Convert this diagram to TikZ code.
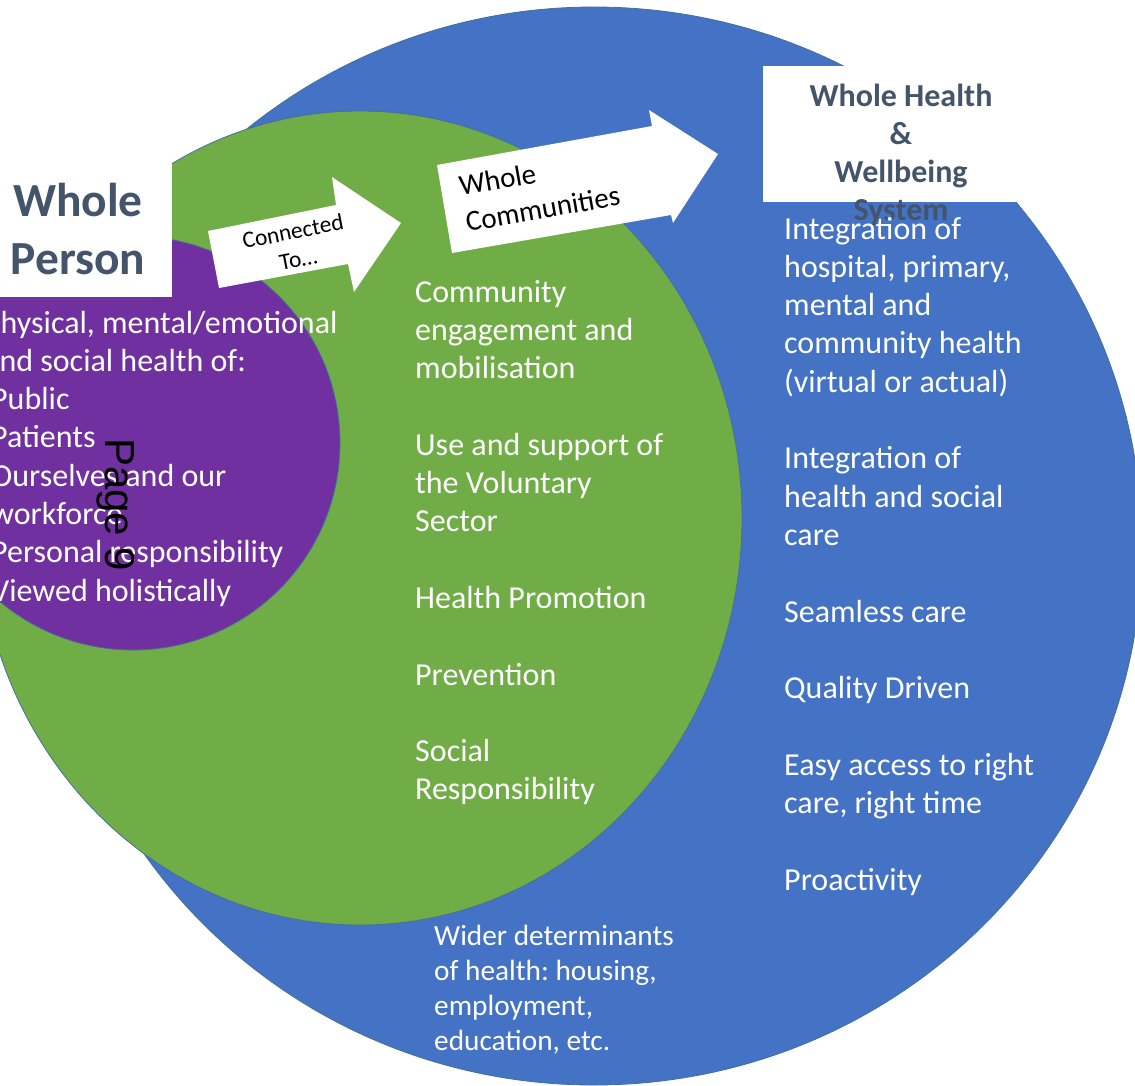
\documentclass[tikz,border=0pt]{standalone}
\usepackage{fontspec}
\setmainfont{Carlito}
\newfontfamily\arialfont{Liberation Sans}
\definecolor{bluefill}{HTML}{4472C4}
\definecolor{greenfill}{HTML}{70AD47}
\definecolor{purplefill}{HTML}{7030A0}
\definecolor{rimblue}{HTML}{41719C}
\definecolor{slate}{HTML}{44546A}
\frenchspacing
\begin{document}
\begin{tikzpicture}[x=1pt,y=-1pt,
  rim/.style={draw=rimblue, line width=0.8pt},
  bodytext/.style={text=white, inner sep=0pt, anchor=base west, font=\fontsize{32}{38.3}\selectfont},
  headtext/.style={text=slate, inner sep=0pt, anchor=base},
  arrowtext/.style={text=black, inner sep=0pt},
  whitebox/.style={fill=white}]
\useasboundingbox (0,0) rectangle (1135,1085);
\fill[white] (0,0) rectangle (1135,1085);
% circles
\filldraw[fill=bluefill, rim] (594,546) ellipse [x radius=548, y radius=539];
\filldraw[fill=greenfill, rim] (360,518) ellipse [x radius=382, y radius=407];
\filldraw[fill=purplefill, rim] (133,443) circle [radius=207];
% heading boxes
\fill[whitebox] (-16,163) rectangle (172,297);
\node[headtext, font=\bfseries\fontsize{47.5}{58}\selectfont] (wholeperson) at (78,216)
  {\begin{tabular}[t]{@{}c@{}}Whole\\Person\end{tabular}};
\fill[whitebox] (763,66) rectangle (1043,202);
\node[headtext, font=\bfseries\fontsize{32}{38.3}\selectfont] (wholesystem) at (901,106)
  {\begin{tabular}[t]{@{}c@{}}Whole Health\\\&\\Wellbeing\\System\end{tabular}};
% arrows
\fill[white] (208,231) -- (336,205) -- (332,177) -- (401,223) -- (354,292) -- (348,264) -- (219,288) -- cycle;
\node[arrowtext, rotate=11, anchor=base, font=\fontsize{23.4}{28.5}\selectfont] (connected) at (294.3,239)
  {\begin{tabular}[t]{@{}c@{}}Connected\\To…\end{tabular}};
\fill[white] (437,165) -- (652,126) -- (649,110) -- (718,154) -- (673,223) -- (671,215) -- (452,253) -- cycle;
\node[arrowtext, rotate=10, anchor=base west, font=\fontsize{29}{36.5}\selectfont] (communities) at (461,196)
  {\begin{tabular}[t]{@{}l@{}}Whole\\Communities\end{tabular}};
% body texts
\node[bodytext] (persontext) at (-16,333)
  {\begin{tabular}[t]{@{}l@{}}Physical, mental/emotional\\and social health of:\\\hspace{7pt}Public\\\hspace{7pt}Patients\\\hspace{7pt}Ourselves and our\\\hspace{7pt}workforce\\\hspace{7pt}Personal responsibility\\\hspace{7pt}Viewed holistically\end{tabular}};
\node[bodytext] (communitytext) at (415,302)
  {\begin{tabular}[t]{@{}l@{}}Community\\engagement and\\mobilisation\\ \\Use and support of\\the Voluntary\\Sector\\ \\Health Promotion\\ \\Prevention\\ \\Social\\Responsibility\end{tabular}};
\node[bodytext] (systemtext) at (784,239)
  {\begin{tabular}[t]{@{}l@{}}Integration of\\hospital, primary,\\mental and\\community health\\(virtual or actual)\\ \\Integration of\\health and social\\care\\ \\Seamless care\\ \\Quality Driven\\ \\Easy access to right\\care, right time\\ \\Proactivity\end{tabular}};
\node[bodytext, font=\fontsize{29.3}{35}\selectfont] (widertext) at (434,945)
  {\begin{tabular}[t]{@{}l@{}}Wider determinants\\of health: housing,\\employment,\\education, etc.\end{tabular}};
% page mark
\node[rotate=-90, anchor=base west, inner sep=0pt, text=black, font=\arialfont\fontsize{42}{50}\selectfont] (pagemark) at (105,438) {Page 9};
\end{tikzpicture}
\end{document}
